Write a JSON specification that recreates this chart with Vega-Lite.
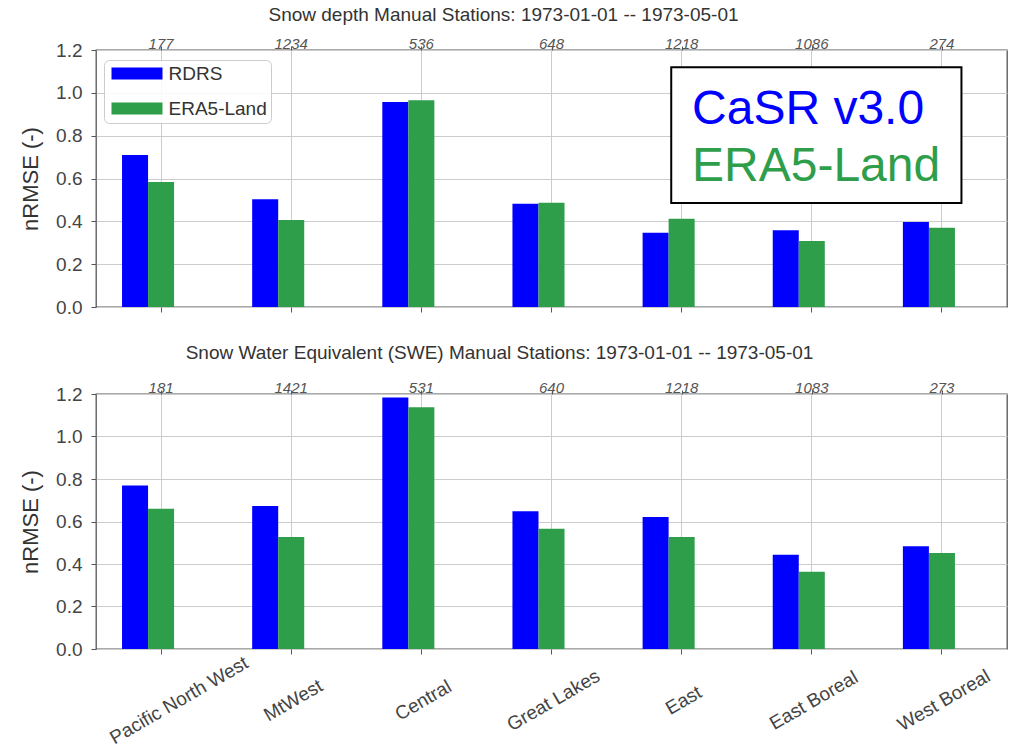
{
  "$schema": "https://vega.github.io/schema/vega-lite/v6.json",
  "padding": {"left": 18, "top": 5, "right": 5, "bottom": 0},
  "background": "white",
  "spacing": 25,
  "config": {
    "font": "Liberation Sans",
    "view": {"stroke": "#555555", "strokeWidth": 1.3},
    "axis": {
      "domain": false,
      "labelFont": "Liberation Sans",
      "labelFontSize": 19,
      "labelColor": "#444444",
      "tickColor": "#555555",
      "tickSize": 5,
      "gridColor": "#cccccc",
      "gridWidth": 1,
      "titleFont": "Liberation Sans",
      "titleFontSize": 22,
      "titleFontWeight": "normal",
      "titleColor": "#333333"
    },
    "axisY": {
      "values": [0, 0.2, 0.4, 0.6, 0.8, 1.0, 1.2],
      "format": ".1f",
      "labelPadding": 9,
      "titlePadding": 13,
      "grid": true
    },
    "title": {"font": "Liberation Sans", "fontSize": 19, "fontWeight": "normal", "color": "#333333"}
  },
  "datasets": {
    "depth": [
      {"region": "Pacific North West", "series": "RDRS", "value": 0.71},
      {"region": "Pacific North West", "series": "ERA5-Land", "value": 0.584},
      {"region": "MtWest", "series": "RDRS", "value": 0.503},
      {"region": "MtWest", "series": "ERA5-Land", "value": 0.406},
      {"region": "Central", "series": "RDRS", "value": 0.957},
      {"region": "Central", "series": "ERA5-Land", "value": 0.965},
      {"region": "Great Lakes", "series": "RDRS", "value": 0.482},
      {"region": "Great Lakes", "series": "ERA5-Land", "value": 0.487},
      {"region": "East", "series": "RDRS", "value": 0.347},
      {"region": "East", "series": "ERA5-Land", "value": 0.412},
      {"region": "East Boreal", "series": "RDRS", "value": 0.358},
      {"region": "East Boreal", "series": "ERA5-Land", "value": 0.308},
      {"region": "West Boreal", "series": "RDRS", "value": 0.397},
      {"region": "West Boreal", "series": "ERA5-Land", "value": 0.37}
    ],
    "depthCounts": [
      {"region": "Pacific North West", "n": 177},
      {"region": "MtWest", "n": 1234},
      {"region": "Central", "n": 536},
      {"region": "Great Lakes", "n": 648},
      {"region": "East", "n": 1218},
      {"region": "East Boreal", "n": 1086},
      {"region": "West Boreal", "n": 274}
    ],
    "swe": [
      {"region": "Pacific North West", "series": "RDRS", "value": 0.77},
      {"region": "Pacific North West", "series": "ERA5-Land", "value": 0.66},
      {"region": "MtWest", "series": "RDRS", "value": 0.673},
      {"region": "MtWest", "series": "ERA5-Land", "value": 0.527},
      {"region": "Central", "series": "RDRS", "value": 1.184},
      {"region": "Central", "series": "ERA5-Land", "value": 1.138},
      {"region": "Great Lakes", "series": "RDRS", "value": 0.648},
      {"region": "Great Lakes", "series": "ERA5-Land", "value": 0.566},
      {"region": "East", "series": "RDRS", "value": 0.621},
      {"region": "East", "series": "ERA5-Land", "value": 0.527},
      {"region": "East Boreal", "series": "RDRS", "value": 0.444},
      {"region": "East Boreal", "series": "ERA5-Land", "value": 0.363},
      {"region": "West Boreal", "series": "RDRS", "value": 0.484},
      {"region": "West Boreal", "series": "ERA5-Land", "value": 0.452}
    ],
    "sweCounts": [
      {"region": "Pacific North West", "n": 181},
      {"region": "MtWest", "n": 1421},
      {"region": "Central", "n": 531},
      {"region": "Great Lakes", "n": 640},
      {"region": "East", "n": 1218},
      {"region": "East Boreal", "n": 1083},
      {"region": "West Boreal", "n": 273}
    ],
    "productBox": [
      {"x0": 4.42, "x1": 6.65, "y0": 0.486, "y1": 1.12}
    ],
    "productNames": [
      {"label": "CaSR v3.0", "series": "RDRS", "x": 4.58, "y": 0.855},
      {"label": "ERA5-Land", "series": "ERA5-Land", "x": 4.58, "y": 0.588}
    ]
  },
  "resolve": {"legend": {"color": "independent"}},
  "vconcat": [
    {
      "title": {"text": "Snow depth Manual Stations: 1973-01-01 -- 1973-05-01", "anchor": "middle", "dx": -48, "offset": 12},
      "width": 911,
      "height": 257,
      "resolve": {"scale": {"x": "independent"}},
      "layer": [
        {
          "data": {"name": "depth"},
          "mark": {"type": "bar"},
          "encoding": {
            "x": {
              "field": "region", "type": "nominal", "sort": null,
              "scale": {"paddingInner": 0, "paddingOuter": 0},
              "axis": {"title": null, "labels": false, "grid": true, "bandPosition": 0.5, "ticks": true}
            },
            "xOffset": {
              "field": "series", "type": "nominal",
              "scale": {"domain": ["RDRS", "ERA5-Land", "gap"], "paddingInner": 0, "paddingOuter": 1}
            },
            "y": {
              "field": "value", "type": "quantitative", "title": "nRMSE (-)",
              "scale": {"domain": [0, 1.2], "nice": false}
            },
            "color": {
              "field": "series", "type": "nominal",
              "scale": {"domain": ["RDRS", "ERA5-Land"], "range": ["#0000ff", "#2e9e4b"]},
              "legend": {
                "title": null,
                "orient": "none",
                "legendX": 8,
                "legendY": 10,
                "symbolType": "M-4.25,-1H4.25V1H-4.25Z",
                "symbolSize": 144,
                "symbolOffset": 19.5,
                "symbolStrokeWidth": 0,
                "symbolOpacity": 1,
                "labelFontSize": 19,
                "labelColor": "#333333",
                "labelOffset": 22,
                "rowPadding": 15,
                "padding": 4,
                "strokeColor": "#cccccc",
                "fillColor": "rgba(255,255,255,0.85)",
                "cornerRadius": 5
              }
            }
          }
        },
        {
          "data": {"name": "depthCounts"},
          "mark": {"type": "text", "fontStyle": "italic", "fontSize": 15, "color": "#555555", "baseline": "alphabetic", "dy": -1},
          "encoding": {
            "x": {
              "field": "region", "type": "nominal", "sort": null,
              "scale": {"paddingInner": 0, "paddingOuter": 0},
              "axis": {"orient": "top", "title": null, "labels": false, "grid": false, "ticks": true, "tickSize": 4, "bandPosition": 0.5}
            },
            "y": {"datum": 1.2, "type": "quantitative", "title": "nRMSE (-)"},
            "text": {"field": "n", "type": "nominal"}
          }
        },
        {
          "layer": [
            {
              "data": {"name": "productBox"},
              "mark": {"type": "rect", "fill": "white", "stroke": "black", "strokeWidth": 2},
              "encoding": {
                "x": {"field": "x0", "type": "quantitative", "scale": {"domain": [0, 7], "nice": false, "zero": false}, "axis": null},
                "x2": {"field": "x1"},
                "y": {"field": "y0", "type": "quantitative", "title": "nRMSE (-)"},
                "y2": {"field": "y1"}
              }
            },
            {
              "data": {"name": "productNames"},
              "mark": {"type": "text", "fontSize": 48, "align": "left", "baseline": "alphabetic"},
              "encoding": {
                "x": {"field": "x", "type": "quantitative", "axis": null},
                "y": {"field": "y", "type": "quantitative", "title": "nRMSE (-)"},
                "text": {"field": "label", "type": "nominal"},
                "color": {"field": "series", "type": "nominal", "legend": null}
              }
            }
          ]
        }
      ]
    },
    {
      "title": {"text": "Snow Water Equivalent (SWE) Manual Stations: 1973-01-01 -- 1973-05-01", "anchor": "middle", "dx": -52, "offset": 18},
      "width": 911,
      "height": 255,
      "resolve": {"scale": {"x": "independent"}},
      "layer": [
        {
          "data": {"name": "swe"},
          "mark": {"type": "bar"},
          "encoding": {
            "x": {
              "field": "region", "type": "nominal", "sort": null,
              "scale": {"paddingInner": 0, "paddingOuter": 0},
              "axis": {
                "title": null, "grid": true, "bandPosition": 0.5, "ticks": true,
                "labelAngle": -30, "labelAlign": "center", "labelBaseline": "middle",
                "labelPadding": 46, "labelColor": "#444444",
                "labelOffset": {"condition": {"test": "datum.value === 'Pacific North West'", "value": 18}, "value": 2}
              }
            },
            "xOffset": {
              "field": "series", "type": "nominal",
              "scale": {"domain": ["RDRS", "ERA5-Land", "gap"], "paddingInner": 0, "paddingOuter": 1}
            },
            "y": {
              "field": "value", "type": "quantitative", "title": "nRMSE (-)",
              "scale": {"domain": [0, 1.2], "nice": false}
            },
            "color": {
              "field": "series", "type": "nominal",
              "scale": {"domain": ["RDRS", "ERA5-Land"], "range": ["#0000ff", "#2e9e4b"]},
              "legend": null
            }
          }
        },
        {
          "data": {"name": "sweCounts"},
          "mark": {"type": "text", "fontStyle": "italic", "fontSize": 15, "color": "#555555", "baseline": "alphabetic", "dy": -1},
          "encoding": {
            "x": {
              "field": "region", "type": "nominal", "sort": null,
              "scale": {"paddingInner": 0, "paddingOuter": 0},
              "axis": {"orient": "top", "title": null, "labels": false, "grid": false, "ticks": true, "tickSize": 4, "bandPosition": 0.5}
            },
            "y": {"datum": 1.2, "type": "quantitative", "title": "nRMSE (-)"},
            "text": {"field": "n", "type": "nominal"}
          }
        }
      ]
    }
  ]
}
